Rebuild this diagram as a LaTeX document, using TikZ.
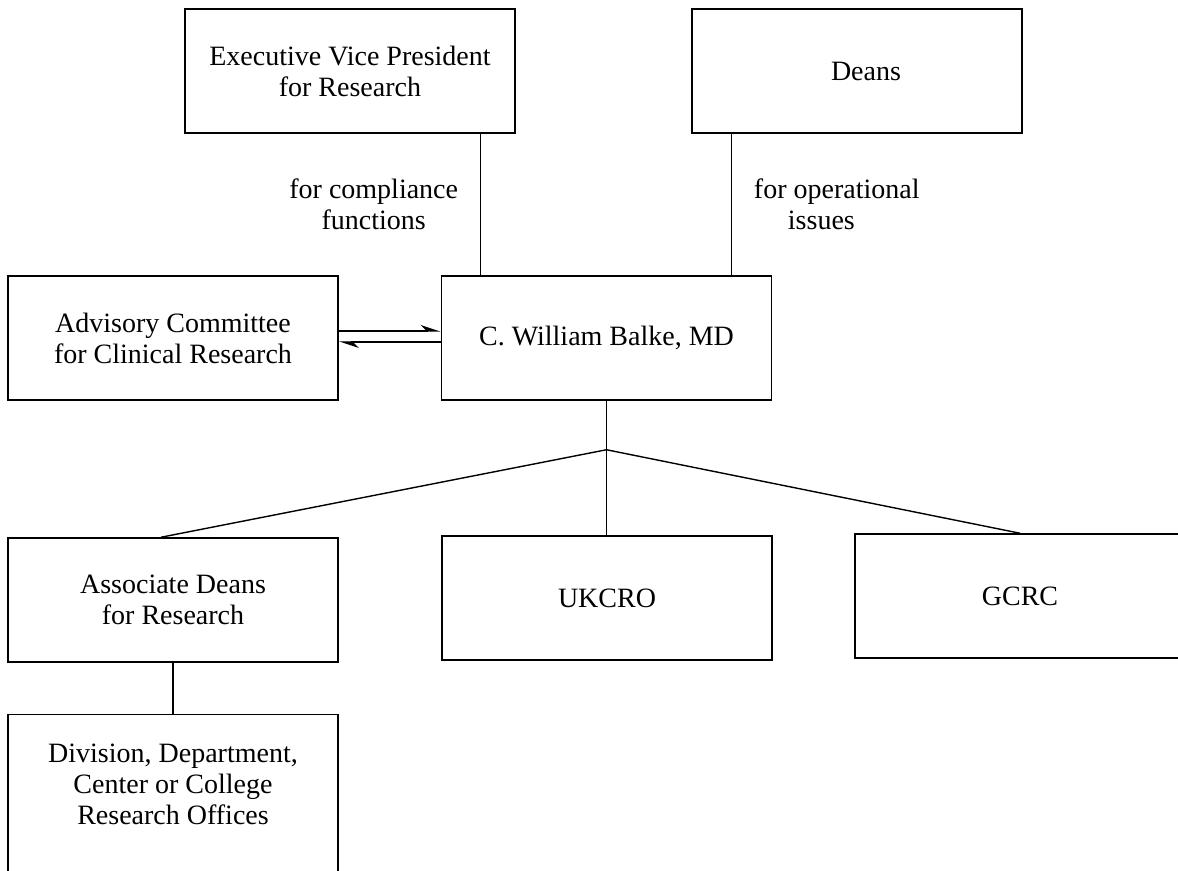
\documentclass[tikz,border=0pt]{standalone}
\usepackage{fontspec}
\setmainfont{Liberation Serif}
\usepackage{tikz}
\usetikzlibrary{arrows.meta, positioning}

\begin{document}
\begin{tikzpicture}[
  x=0.5pt, y=-0.5pt,
  every node/.style={font=\fontsize{14}{15.5}\selectfont},
  box/.style={rectangle, draw, line width=0.75pt, align=center,
              minimum width=165pt, minimum height=62pt, inner sep=0pt},
  link/.style={line width=0.7pt},
  arrow/.style={-{Stealth[harpoon, length=9pt, width=6pt]}, line width=0.7pt},
  note/.style={align=center, inner sep=0pt}
]
  \useasboundingbox (0,0) rectangle (1178,871);
  \clip (0,0) rectangle (1178,871);

  % top row
  \node[box] (evp) at (350,71) {Executive Vice President\\for Research};
  \node[box] (deans) at (857,71) {\hspace*{9pt}Deans};

  % middle row
  \node[box] (adv) at (173,338) {Advisory Committee\\for Clinical Research};
  \node[box, right=51pt of adv] (balke) {C. William Balke, MD};

  % bottom rows
  \node[box] (assoc) at (173,600) {Associate Deans\\for Research};
  \node[box] (ukcro) at (607,598) {UKCRO};
  \node[box] (gcrc) at (1020,596) {GCRC};
  \node[box, minimum height=85pt, below=25.5pt of assoc]
    (div) {Division, Department,\\Center or College\\Research Offices\\{}};

  \coordinate[below=24.5pt of balke.south] (hub);

  \draw[link] ([xshift=-17.5pt]evp.south east)
    -- node[note, midway, left=11pt] {for compliance\\functions}
    ([xshift=-17.5pt]evp.south east |- balke.north);
  \draw[link] ([xshift=20pt]deans.south west)
    -- node[note, align=left, midway, right=11pt] {for operational\\\hspace*{17pt}issues}
    ([xshift=20pt]deans.south west |- balke.north);

  \draw[arrow] ([yshift=3.5pt]adv.east) -- ([yshift=3.5pt]balke.west);
  \draw[arrow] ([yshift=-2pt]balke.west) -- ([yshift=-2pt]adv.east);

  \draw[link] (balke.south) -- (hub);
  \draw[link] (hub) -- ([xshift=-6pt]assoc.north);
  \draw[link] (hub) -- (hub |- ukcro.north);
  \draw[link] (hub) -- (gcrc.north);
  \draw[link] (assoc) -- (div);
\end{tikzpicture}
\end{document}
